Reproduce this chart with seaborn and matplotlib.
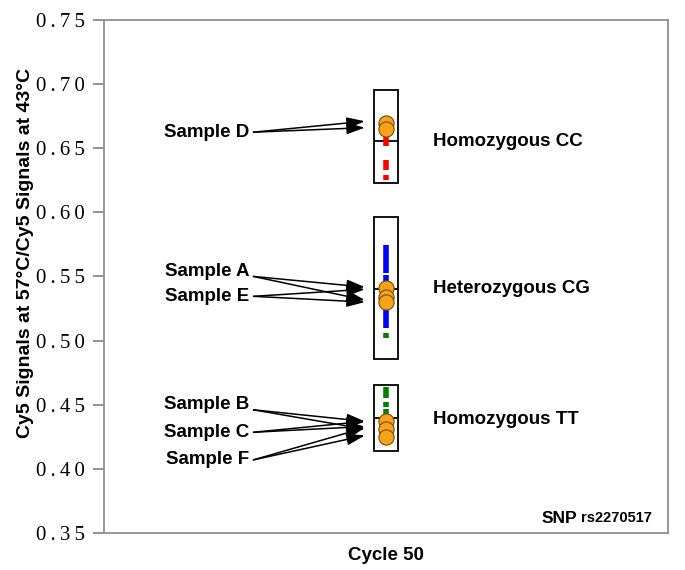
import numpy as np
import pandas as pd
import seaborn as sns
import matplotlib.pyplot as plt
from matplotlib.patches import Rectangle

# genotype boxes (top, median, bottom)
genotypes = ["Homozygous CC", "Heterozygous CG", "Homozygous TT"]
box_top = [0.695, 0.596, 0.465]
box_mid = [0.656, 0.540, 0.4395]
box_bot = [0.623, 0.486, 0.414]

# sample points
samples = ["D", "D", "A", "E", "A", "B", "C", "F"]
sample_vals = [0.670, 0.665, 0.541, 0.534, 0.530, 0.437, 0.431, 0.425]

# coloured replicate segments (low, high, colour)
seg_lo = [0.652, 0.633, 0.625, 0.5527, 0.546, 0.510, 0.502, 0.455, 0.448, 0.430]
seg_hi = [0.662, 0.641, 0.629, 0.5745, 0.551, 0.537, 0.506, 0.4637, 0.452, 0.447]
seg_col = ["#ff0000", "#ff0000", "#ff0000", "#0000ff", "#0000ff", "#0000ff",
           "#008000", "#008000", "#008000", "#008000"]

# arrow labels
labels = ["Sample D", "Sample A", "Sample E", "Sample B", "Sample C", "Sample F"]
label_y = [0.6625, 0.5535, 0.5345, 0.4500, 0.4285, 0.4070]
arrow_tail_y = [0.6625, 0.5500, 0.5345, 0.4460, 0.4285, 0.4070]
arrow_targets = [[0.671, 0.666], [0.5417, 0.5316], [0.540, 0.530],
                 [0.437, 0.431], [0.437, 0.433], [0.432, 0.426]]

geno_y = [0.6555, 0.5405, 0.4385]

sns.set_style("white")
plt.rcParams["font.family"] = ["Liberation Sans", "DejaVu Sans"]
plt.rcParams["text.color"] = "black"
plt.rcParams["axes.labelcolor"] = "black"
plt.rcParams["ytick.color"] = "black"

fig = plt.figure(figsize=(6.85, 5.7), dpi=100)
ax = fig.add_axes([0.152, 0.065, 0.823, 0.900])

ax.set_xlim(-1, 1)
ax.set_ylim(0.35, 0.75)

hw = 0.0425
for t, m, b in zip(box_top, box_mid, box_bot):
    ax.add_patch(Rectangle((-hw, b), 2 * hw, t - b, fill=False,
                           edgecolor="black", lw=1.3, zorder=2))
    ax.hlines(m, -hw, hw, color="black", lw=1.3, zorder=2)

for lo, hi, c in zip(seg_lo, seg_hi, seg_col):
    ax.vlines(0, lo, hi, color=c, lw=4, zorder=3)

df = pd.DataFrame({"x": [0.0] * len(sample_vals), "y": sample_vals})
sns.scatterplot(data=df, x="x", y="y", ax=ax, s=120, color="#f7a21b",
                edgecolor="#7a4a00", linewidth=0.8, zorder=4, legend=False)

for lab, ly, ty, tg in zip(labels, label_y, arrow_tail_y, arrow_targets):
    ax.text(-0.485, ly, lab, ha="right", va="center", fontsize=13.5,
            fontweight="bold")
    for yy in tg:
        ax.annotate("", xy=(-0.075, yy), xytext=(-0.47, ty),
                    arrowprops=dict(arrowstyle="-|>,head_length=1.1,head_width=0.35",
                                    color="black", lw=1.1, shrinkA=0, shrinkB=0))

for g, gy in zip(genotypes, geno_y):
    ax.text(0.167, gy, g, ha="left", va="center", fontsize=13.5,
            fontweight="bold")

rs = ax.text(0.945, 0.3615, "rs2270517", ha="right", va="center",
             fontsize=10.5, fontweight="bold")
ax.annotate("SNP", xy=(0, 0.5), xycoords=rs, xytext=(-3, 0),
            textcoords="offset points", ha="right", va="center",
            fontsize=12.5, fontweight="bold")

ticks = np.arange(0.35, 0.751, 0.05)
ax.set_yticks(ticks)
ax.set_yticklabels(["\u2009".join(f"{t:.2f}") for t in ticks],
                   fontfamily="Liberation Serif", fontsize=15)
ax.set_xticks([])
ax.tick_params(axis="y", direction="out", length=8, color="#808080",
               width=1.2, left=True, pad=6)

for sp in ax.spines.values():
    sp.set_color("#909090")
    sp.set_linewidth(1.3)

ax.set_ylabel("Cy5 Signals at 57°C/Cy5 Signals at 43°C", fontsize=14,
              fontweight="bold")
ax.yaxis.set_label_coords(-0.125, 0.545)
ax.set_xlabel("Cycle 50", fontsize=13.5, fontweight="bold", labelpad=10)

fig.savefig("out.png", dpi=100)
